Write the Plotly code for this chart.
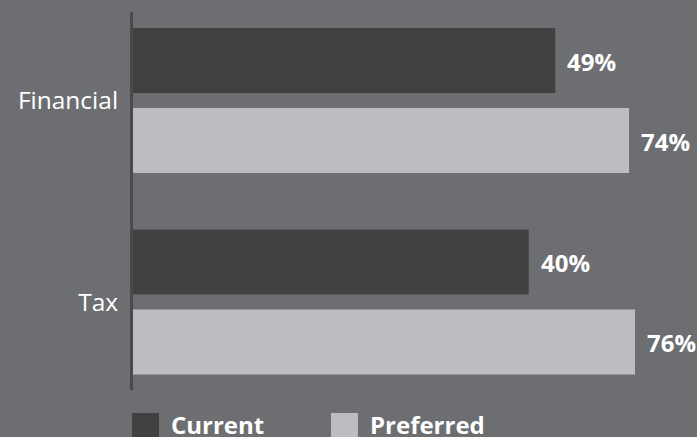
import plotly.graph_objects as go

# Survey shares by area
categories = ["Financial", "Tax"]
current = [49, 40]
preferred = [74, 76]
series_names = ["Current", "Preferred"]

BG = "#6d6e71"
DARK = "#414142"
LIGHT = "#bcbdc0"
AXIS_LINE = "#4a4a4c"

# value axis window; bars grow from the left edge of the window
AXIS_START = -94
AXIS_END = 97

fig = go.Figure()
for name, vals, color in [(series_names[0], current, DARK), (series_names[1], preferred, LIGHT)]:
    fig.add_trace(go.Bar(
        name=name,
        y=categories,
        x=[v - AXIS_START for v in vals],
        base=AXIS_START,
        orientation="h",
        marker=dict(color=color, line=dict(width=0)),
        showlegend=False,
        hoverinfo="skip",
    ))

# value labels to the right of each bar
offset = 0.1985
for i, cat in enumerate(categories):
    for vals, dy in [(current, -offset), (preferred, offset)]:
        fig.add_annotation(
            x=vals[i], y=i + dy, xref="x", yref="y",
            text=f"{vals[i]}%", showarrow=False,
            xanchor="left", yanchor="middle", xshift=10, yshift=-1,
            font=dict(family="Open Sans", size=24, color="white", weight="bold"),
        )

# legend drawn below the plot
for label, color, px in [(series_names[0], DARK, -1), (series_names[1], LIGHT, 198)]:
    fig.add_shape(
        type="rect", xref="paper", yref="paper",
        xsizemode="pixel", ysizemode="pixel", xanchor=0, yanchor=0,
        x0=px, x1=px + 27, y0=-23, y1=-60,
        fillcolor=color, line=dict(width=0),
    )
    fig.add_annotation(
        x=0, y=0, xref="paper", yref="paper",
        xshift=px + 37, yshift=-16,
        text=label, showarrow=False, xanchor="left", yanchor="top",
        font=dict(family="Open Sans", size=24, color="white", weight="bold"),
    )

fig.update_layout(
    width=697, height=437,
    margin=dict(l=133, r=0, t=12, b=47),
    paper_bgcolor=BG, plot_bgcolor=BG,
    barmode="group", bargap=0.206, bargroupgap=0.1875,
    xaxis=dict(range=[AXIS_START, AXIS_END], visible=False, fixedrange=True),
    yaxis=dict(
        range=[1.437, -0.439],
        showline=True, linecolor=AXIS_LINE, linewidth=3,
        showgrid=False, zeroline=False, ticks="",
        ticklabelstandoff=7,
        tickfont=dict(family="Open Sans", size=24.5, color="white"),
    ),
)

fig.write_html("out.html")
